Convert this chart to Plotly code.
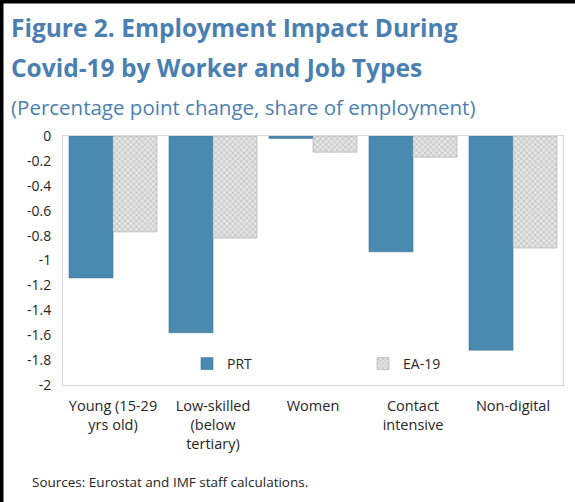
import plotly.graph_objects as go

categories = ["Young (15-29<br>yrs old)", "Low-skilled<br>(below<br>tertiary)", "Women",
              "Contact<br>intensive", "Non-digital"]
prt_values = [-1.14, -1.58, -0.02, -0.93, -1.72]
ea_values = [-0.77, -0.82, -0.13, -0.17, -0.90]
y_tickvals = [0, -0.2, -0.4, -0.6, -0.8, -1, -1.2, -1.4, -1.6, -1.8, -2]
y_ticktext = ["0", "-0.2", "-0.4", "-0.6", "-0.8", "-1", "-1.2", "-1.4", "-1.6", "-1.8", "-2"]

W, H = 575, 502
L, R, T, B = 63, 12, 136, 117
pw, ph = W - L - R, H - T - B

def px_x(px):
    return (px - L) / pw

def px_y(py):
    return (H - B - py) / ph

BLUE = "#4B8AB0"
TITLE = "#4A7FB2"
FONT = "Open Sans, Noto Sans, sans-serif"

fig = go.Figure()
fig.add_trace(go.Bar(x=categories, y=prt_values, name="PRT",
                     marker=dict(color=BLUE, line=dict(color="#3F7596", width=0.6))))
fig.add_trace(go.Bar(x=categories, y=ea_values, name="EA-19",
                     marker=dict(color="#d4d4d4",
                                 pattern=dict(shape="x", size=4, solidity=0.35,
                                              fgcolor="#9a9a9a", bgcolor="#e4e4e4", fillmode="overlay"),
                                 line=dict(color="#a8a8a8", width=0.6))))

fig.update_layout(
    template="none",
    width=W, height=H,
    margin=dict(l=L, r=R, t=T, b=B, autoexpand=False),
    paper_bgcolor="white", plot_bgcolor="white",
    barmode="group", bargap=0.12, bargroupgap=0,
    font=dict(family=FONT, size=14, color="#262626"),
    showlegend=True,
    legend=dict(orientation="h", x=px_x(187), y=px_y(364), xanchor="left", yanchor="middle",
                entrywidth=131, entrywidthmode="pixels", bgcolor="rgba(0,0,0,0)",
                font=dict(size=14, color="#262626"), traceorder="normal"),
    xaxis=dict(showline=True, linecolor="#d6d6d6", linewidth=1, mirror=True, automargin=False,
               ticks="", ticklabelstandoff=8, tickfont=dict(size=14.5, color="#262626"),
               showgrid=False, zeroline=False, range=[-0.5, 4.5]),
    xaxis2=dict(overlaying="x", side="top", anchor="y", matches="x", showline=False,
                automargin=False, showticklabels=False, ticks="outside", ticklen=4,
                tickcolor="#d6d6d6", tickmode="array", tickvals=[-0.5, 0.5, 1.5, 2.5, 3.5, 4.5],
                showgrid=False, zeroline=False, range=[-0.5, 4.5]),
    yaxis=dict(range=[-2, 0], tickmode="array", tickvals=y_tickvals, ticktext=y_ticktext,
               showline=True, linecolor="#d6d6d6", linewidth=1, mirror=True, automargin=False,
               ticks="", ticklabelstandoff=8, showgrid=False, zeroline=False,
               tickfont=dict(size=14, color="#262626")),
)

annotations = [
    dict(text="Figure 2. Employment Impact During", x=px_x(9), y=px_y(28), xanchor="left",
         yanchor="middle", font=dict(size=24.5, color=TITLE, family=FONT, weight=700)),
    dict(text="Covid-19 by Worker and Job Types", x=px_x(9), y=px_y(68), xanchor="left",
         yanchor="middle", font=dict(size=24.5, color=TITLE, family=FONT, weight=700)),
    dict(text="(Percentage point change, share of employment)", x=px_x(9), y=px_y(107),
         xanchor="left", yanchor="middle", font=dict(size=20.5, color=TITLE, family=FONT)),
    dict(text="Sources: Eurostat and IMF staff calculations.", x=px_x(30), y=px_y(482),
         xanchor="left", yanchor="middle", font=dict(size=13.5, color="#262626", family=FONT)),
]
for a in annotations:
    a.update(xref="paper", yref="paper", showarrow=False)
fig.update_layout(annotations=annotations)

fig.update_layout(shapes=[
    dict(type="rect", xref="paper", yref="paper", x0=px_x(0), x1=px_x(3.5), y0=px_y(H),
         y1=px_y(0), fillcolor="black", line=dict(width=0), layer="above"),
    dict(type="rect", xref="paper", yref="paper", x0=px_x(0), x1=px_x(W), y0=px_y(3.5),
         y1=px_y(0), fillcolor="black", line=dict(width=0), layer="above"),
])

border_js = (
    "document.body.style.margin='0';document.body.style.padding='0';"
    "var gd=document.getElementById('{plot_id}');"
    "gd.style.position='relative';"
    "var d1=document.createElement('div');"
    "d1.style.cssText='position:absolute;left:0;top:0;width:3px;height:502px;background:#000;z-index:10;pointer-events:none';"
    "var d2=document.createElement('div');"
    "d2.style.cssText='position:absolute;left:0;top:0;width:575px;height:3px;background:#000;z-index:10;pointer-events:none';"
    "gd.appendChild(d1);gd.appendChild(d2);"
)

fig.write_html("out.html", config={"displayModeBar": False}, post_script=border_js)
